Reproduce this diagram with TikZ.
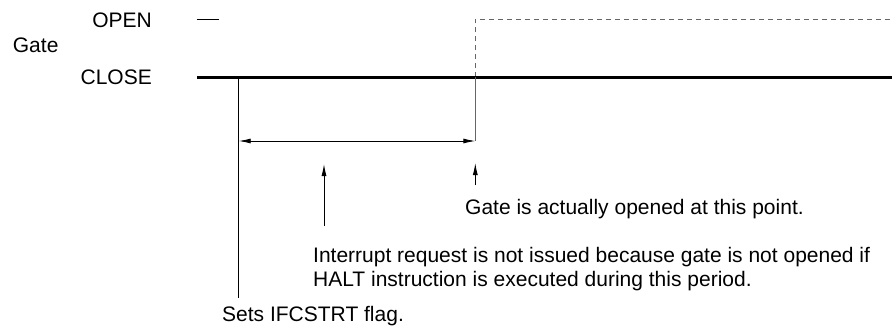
\documentclass[tikz,border=0pt]{standalone}
\usepackage{fontspec}
\setmainfont{Liberation Sans}
\usetikzlibrary{arrows.meta, positioning}

\begin{document}
\begin{tikzpicture}[x=1pt, y=-1pt,
	lbl/.style={inner sep=0pt, font=\fontsize{21}{23.5}\selectfont},
	thin line/.style={line width=0.9pt},
	level line/.style={line width=2.6pt},
	gate line/.style={line width=0.9pt, black!60},
	open line/.style={line width=1pt, black!60, dash pattern=on 5pt off 4pt},
	tip/.style={-{Latex[length=12pt, width=5pt]}, line width=0.9pt},
	span/.style={{Latex[length=12pt, width=5pt]}-{Latex[length=12pt, width=5pt]}, line width=0.9pt}]
	\useasboundingbox (0,0) rectangle (892,327);
	% Paths, nodes and wires:
	\node[lbl, anchor=base east] (open lbl) at (152, 27.3){OPEN};
	\node[lbl, anchor=base west] (gate lbl) at (12.7, 52.7){Gate};
	\node[lbl, anchor=base east] (close lbl) at (152, 84){CLOSE};
	\coordinate (open a) at (197, 19.3);
	\coordinate (open b) at (219, 19.3);
	\coordinate (close a) at (197, 77.3);
	\coordinate (close b) at (892, 77.3);
	\coordinate (start top) at (238.7, 77.3);
	\coordinate (start bot) at (238.7, 297.5);
	\coordinate (gate top) at (475.3, 77.3);
	\coordinate (gate high) at (475.3, 19.3);
	\coordinate (gate end) at (892, 19.3);
	\coordinate (period a) at (238.7, 141);
	\coordinate (period b) at (475.3, 141);
	\coordinate (halt tip) at (324, 164);
	\coordinate (halt tail) at (324, 225.8);
	\coordinate (gate tip) at (475.3, 163);
	\coordinate (gate tail) at (475.3, 185);
	\node[lbl, anchor=base west] (gate txt) at (465, 214.3){Gate is actually opened at this point.};
	\node[lbl, anchor=base west, align=left] (halt txt) at (313, 286){Interrupt request is not issued because gate is not opened if\\HALT instruction is executed during this period.};
	\node[lbl, anchor=base west] (start txt) at (222, 321){Sets IFCSTRT flag.};
	\draw[thin line] (open a) -- (open b);
	\draw[open line] (gate top) -- (gate high) -- (gate end);
	\draw[level line] (close a) -- (close b);
	\draw[thin line] (start top) -- (start bot);
	\draw[gate line] (gate top) -- (period b);
	\draw[span] (period a) -- (period b);
	\draw[tip] (halt tail) -- (halt tip);
	\draw[tip] (gate tail) -- (gate tip);
\end{tikzpicture}
\end{document}
